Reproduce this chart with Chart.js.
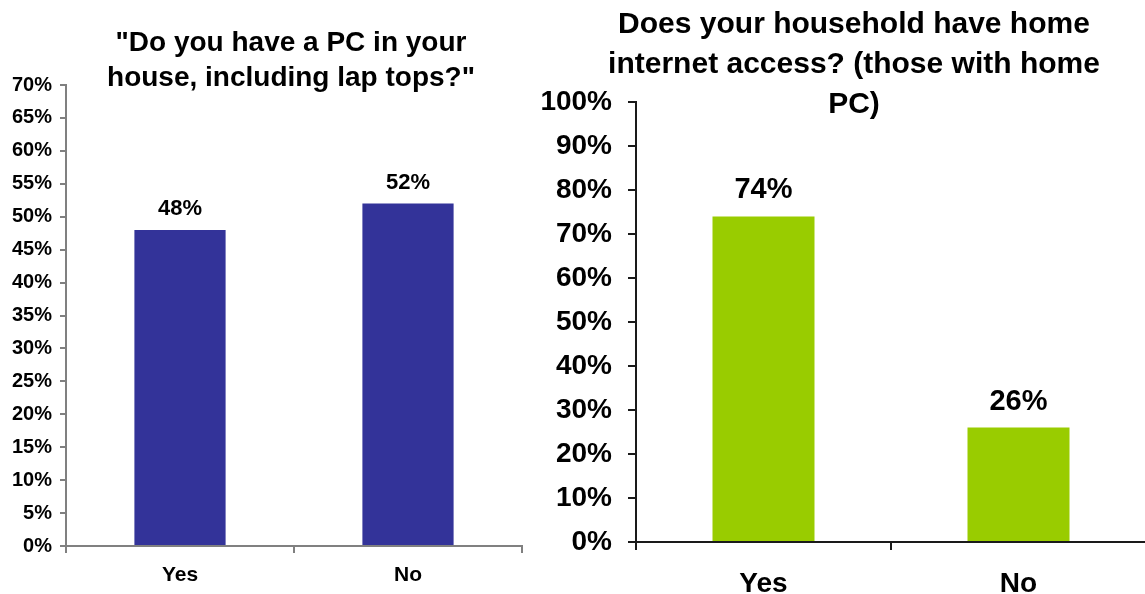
<!DOCTYPE html>
<html>
<head>
<meta charset="utf-8">
<script src="https://cdn.jsdelivr.net/npm/chart.js@4.4.1/dist/chart.umd.min.js"></script>
<style>
    html, body {
        margin: 0;
        padding: 0;
        background: #ffffff;
        overflow: hidden;
        width: 1145px;
        height: 594px;
        position: relative;
        font-family: 'Liberation Sans', Arial, sans-serif;
    }
    .chart-title {
        position: absolute;
        font-weight: bold;
        text-align: center;
        color: #000000;
        white-space: nowrap;
    }
    #title-pc {
        left: 0;
        width: 582px;
        top: 24px;
        font-size: 28px;
        line-height: 35px;
    }
    #title-internet {
        left: 500px;
        width: 708px;
        top: 3px;
        font-size: 30px;
        line-height: 40px;
    }
    canvas {
        position: absolute;
        top: 0;
    }
    #bar-pc-at-home { left: 0; }
    #bar-internet-access { left: 500px; }
</style>
</head>
<body>
<canvas id="bar-pc-at-home" width="582" height="594"></canvas>
<canvas id="bar-internet-access" width="708" height="594"></canvas>
<div class="chart-title" id="title-pc">"Do you have a PC in your<br>house, including lap tops?"</div>
<div class="chart-title" id="title-internet">Does your household have home<br>internet access? (those with home<br>PC)</div>

<script>
var categories = ['Yes', 'No'];

var pcValues = [48, 52];
var pcAxisMax = 70;
var pcAxisStep = 5;

var internetValues = [74, 26];
var internetAxisMax = 100;
var internetAxisStep = 10;

var fontFamily = "'Liberation Sans', Arial, sans-serif";

// writes the percentage above each bar
var valueLabels = {
    id: 'valueLabels',
    afterDatasetsDraw: function(chart, args, opts) {
        var ctx = chart.ctx;
        var meta = chart.getDatasetMeta(0);
        var values = chart.data.datasets[0].data;
        ctx.save();
        ctx.fillStyle = '#000000';
        ctx.font = 'bold ' + opts.size + 'px ' + fontFamily;
        ctx.textAlign = 'center';
        ctx.textBaseline = 'alphabetic';
        meta.data.forEach(function(bar, i) {
            ctx.fillText(values[i] + '%', bar.x, bar.y - opts.gap);
        });
        ctx.restore();
    }
};

function makeBarChart(canvasId, values, color, axisMax, axisStep, sizes) {
    var el = document.getElementById(canvasId);

    return new Chart(el, {
        type: 'bar',
        data: {
            labels: categories,
            datasets: [{
                data: values,
                backgroundColor: color,
                borderWidth: 0,
                barPercentage: 1,
                categoryPercentage: 0.4
            }]
        },
        options: {
            responsive: false,
            animation: false,
            layout: {
                padding: { top: sizes.top, right: sizes.right, left: 0, bottom: 0 }
            },
            plugins: {
                legend: { display: false },
                tooltip: { enabled: false },
                valueLabels: { size: sizes.valueFont, gap: sizes.valueGap }
            },
            scales: {
                x: {
                    grid: {
                        display: true,
                        drawOnChartArea: false,
                        offset: true,
                        tickLength: sizes.xTick,
                        tickColor: sizes.lineColor,
                        lineWidth: sizes.lineWidth
                    },
                    border: { display: true, color: sizes.lineColor, width: sizes.lineWidth },
                    ticks: {
                        color: '#000000',
                        padding: sizes.xPad,
                        font: { family: fontFamily, size: sizes.xFont, weight: 'bold' }
                    },
                    afterFit: function(scale) { scale.height = sizes.xHeight; }
                },
                y: {
                    min: 0,
                    max: axisMax,
                    grid: {
                        display: true,
                        drawOnChartArea: false,
                        tickLength: sizes.yTick,
                        tickColor: sizes.lineColor,
                        lineWidth: sizes.lineWidth
                    },
                    border: { display: true, color: sizes.lineColor, width: sizes.lineWidth },
                    ticks: {
                        stepSize: axisStep,
                        color: '#000000',
                        padding: sizes.yPad,
                        font: { family: fontFamily, size: sizes.yFont, weight: 'bold' },
                        callback: function(value) { return value + '%'; }
                    },
                    afterFit: function(scale) { scale.width = sizes.yWidth; }
                }
            }
        },
        plugins: [valueLabels]
    });
}

document.addEventListener('DOMContentLoaded', function() {
    makeBarChart('bar-pc-at-home', pcValues, '#333399', pcAxisMax, pcAxisStep, {
        top: 85, right: 60,
        yWidth: 66, xHeight: 48,
        yTick: 6, xTick: 7, yPad: 8, xPad: 10,
        yFont: 20, xFont: 21, valueFont: 22, valueGap: 15,
        lineColor: '#808080', lineWidth: 2
    });

    makeBarChart('bar-internet-access', internetValues, '#99CC00', internetAxisMax, internetAxisStep, {
        top: 102, right: 62,
        yWidth: 136, xHeight: 52,
        yTick: 8, xTick: 8, yPad: 16, xPad: 17,
        yFont: 28, xFont: 28, valueFont: 29, valueGap: 18,
        lineColor: '#1a1a1a', lineWidth: 2
    });
});
</script>
</body>
</html>
